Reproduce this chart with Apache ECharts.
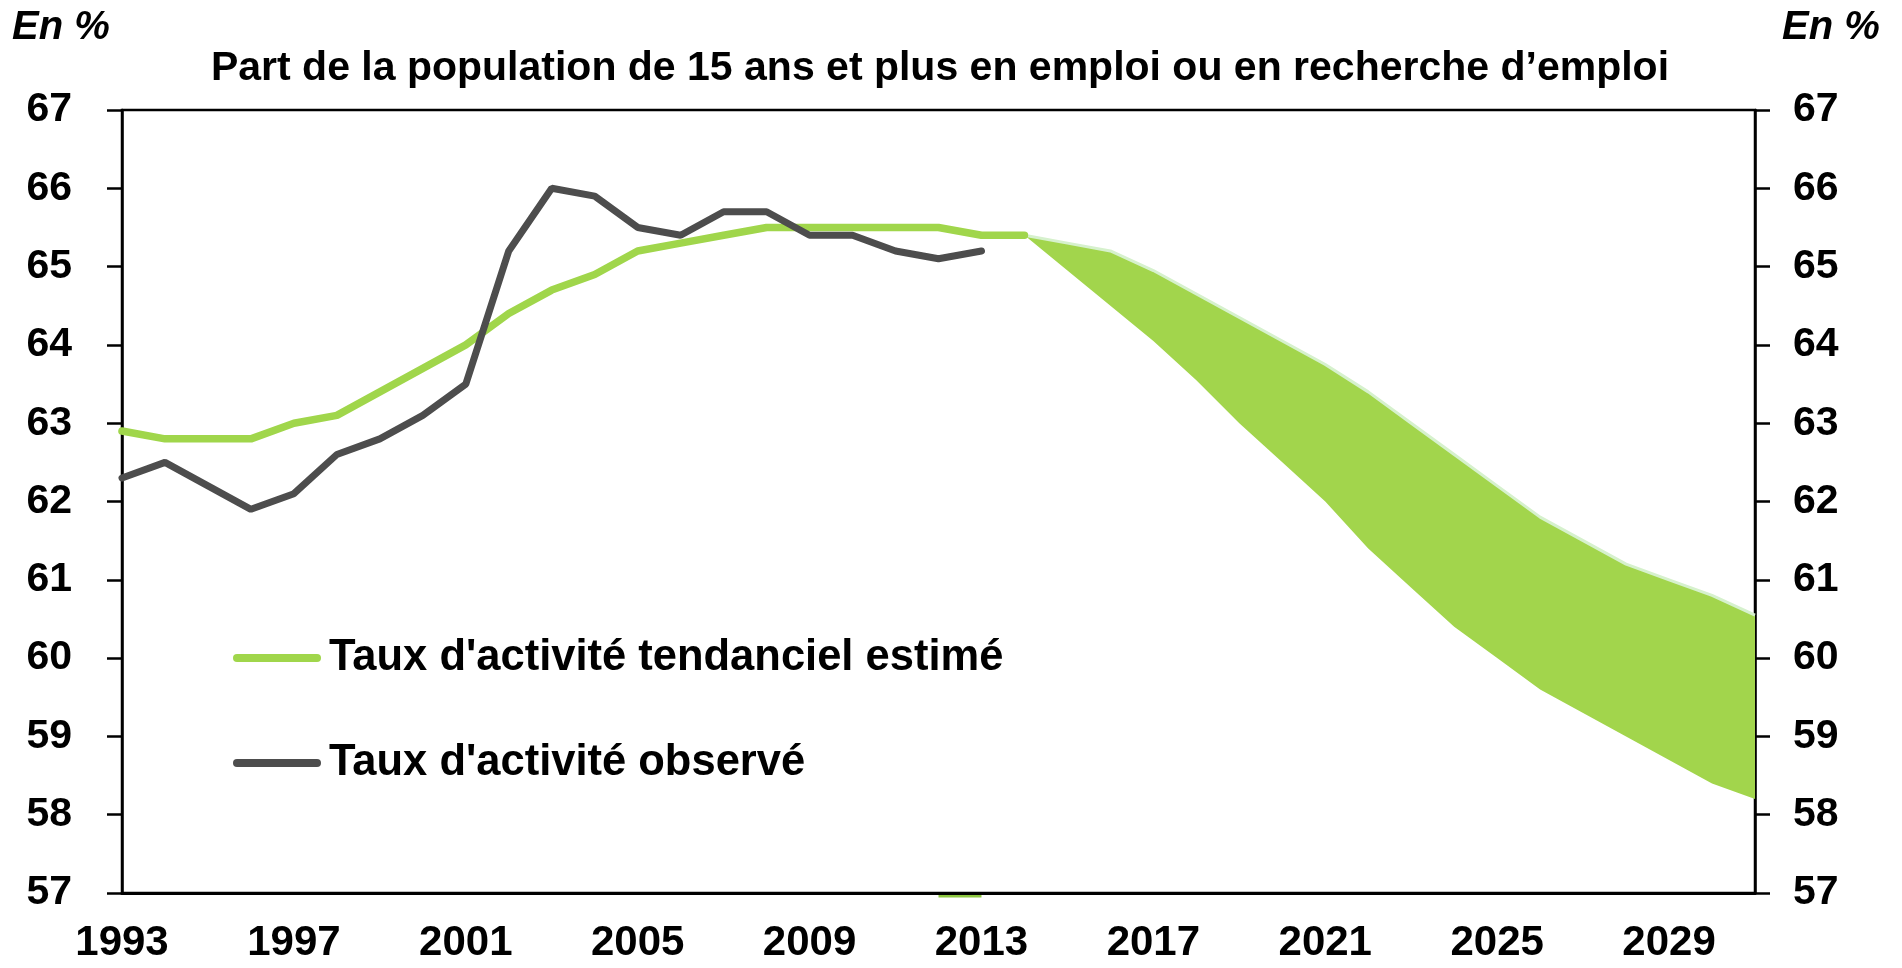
<!DOCTYPE html>
<html>
<head>
<meta charset="utf-8">
<title>Taux d'activité</title>
<script src="https://cdn.jsdelivr.net/npm/echarts@6/dist/echarts.min.js"></script>
<style>
  html, body { margin: 0; padding: 0; background: #fff; }
  #chart { width: 1902px; height: 968px; }
</style>
</head>
<body>
<div id="chart"></div>
<script>
const years = ['1993', '1994', '1995', '1996', '1997', '1998', '1999', '2000', '2001', '2002',
  '2003', '2004', '2005', '2006', '2007', '2008', '2009', '2010', '2011', '2012',
  '2013', '2014', '2015', '2016', '2017', '2018', '2019', '2020', '2021', '2022',
  '2023', '2024', '2025', '2026', '2027', '2028', '2029', '2030', '2031'];

// taux tendanciel estimé, 1993-2014
const tendance = [62.9, 62.8, 62.8, 62.8, 63.0, 63.1, 63.4, 63.7, 64.0, 64.4, 64.7,
  64.9, 65.2, 65.3, 65.4, 65.5, 65.5, 65.5, 65.5, 65.5, 65.4, 65.4];
// taux observé, 1993-2013
const observe = [62.3, 62.5, 62.2, 61.9, 62.1, 62.6, 62.8, 63.1, 63.5, 65.2, 66.0,
  65.9, 65.5, 65.4, 65.7, 65.7, 65.4, 65.4, 65.2, 65.1, 65.2];
// fourchette de projection, 2014-2031
const projHaut = [65.4, 65.3, 65.2, 64.95, 64.65, 64.35, 64.05, 63.75, 63.4, 63.0,
  62.6, 62.2, 61.8, 61.5, 61.2, 61.0, 60.8, 60.55];
const projBas = [65.4, 64.95, 64.5, 64.05, 63.55, 63.0, 62.5, 62.0, 61.4, 60.9,
  60.4, 60.0, 59.6, 59.3, 59.0, 58.7, 58.4, 58.2];
// petit trait vert sous l'axe, 2012-2013
const trait = [56.96, 56.96];

const yTicks = { min: 57, max: 67, interval: 1 };

const FONT = 'Liberation Sans, Arial, Helvetica, sans-serif';
const GREEN = '#a0d64b';
const GREY = '#4d4d4d';

// place a short array at its starting year on the full category axis
function pad(arr, startYear) {
  const offset = years.indexOf(String(startYear));
  return years.map((y, i) => {
    const k = i - offset;
    return k >= 0 && k < arr.length ? arr[k] : null;
  });
}

const basData = pad(projBas, 2014);
const ecartData = pad(projHaut.map((v, i) => +(v - projBas[i]).toFixed(3)), 2014);

const chart = echarts.init(document.getElementById('chart'));

const yAxisBase = {
  type: 'value',
  min: yTicks.min,
  max: yTicks.max,
  interval: yTicks.interval,
  splitLine: { show: false },
  axisLine: { show: true, lineStyle: { color: '#000', width: 2.5 } },
  axisTick: { show: true, inside: false, length: 15, lineStyle: { color: '#000', width: 2.5 } }
};

const option = {
  animation: false,
  backgroundColor: '#fff',
  grid: {
    left: 122, right: 147, top: 110, bottom: 75,
    show: true, borderColor: '#000', borderWidth: 2.5
  },
  graphic: [
    {
      type: 'text', x: 940, y: 69,
      style: {
        text: 'Part de la population de 15 ans et plus en emploi ou en recherche d’emploi',
        font: 'bold 41px ' + FONT, fill: '#000', align: 'center', verticalAlign: 'middle'
      }
    },
    {
      type: 'text', x: 12, y: 28,
      style: { text: 'En %', font: 'italic bold 40px ' + FONT, fill: '#000', align: 'left', verticalAlign: 'middle' }
    },
    {
      type: 'text', x: 1782, y: 28,
      style: { text: 'En %', font: 'italic bold 40px ' + FONT, fill: '#000', align: 'left', verticalAlign: 'middle' }
    }
  ],
  legend: {
    data: ["Taux d'activité tendanciel estimé", "Taux d'activité observé"],
    orient: 'vertical',
    left: 228,
    top: 628,
    itemWidth: 88,
    itemHeight: 8,
    itemGap: 55,
    icon: 'path://M4,0H84A4,4,0,0,1,84,8H4A4,4,0,0,1,4,0Z',
    selectedMode: false,
    textStyle: {
      fontFamily: FONT, fontSize: 43.5, fontWeight: 'bold', color: '#000',
      lineHeight: 50, padding: [0, 0, 0, 3]
    }
  },
  xAxis: {
    type: 'category',
    data: years,
    boundaryGap: false,
    axisLine: { lineStyle: { color: '#000', width: 3 } },
    axisTick: { show: false },
    splitLine: { show: false },
    axisLabel: {
      interval: 3, margin: 29,
      fontFamily: FONT, fontSize: 42, fontWeight: 'bold', color: '#000'
    }
  },
  yAxis: [
    Object.assign({}, yAxisBase, {
      position: 'left',
      axisLabel: { margin: 50, fontFamily: FONT, fontSize: 41, fontWeight: 'bold', color: '#000' }
    }),
    Object.assign({}, yAxisBase, {
      position: 'right',
      axisLabel: { margin: 38, fontFamily: FONT, fontSize: 41, fontWeight: 'bold', color: '#000' }
    })
  ],
  series: [
    {
      name: 'bas',
      type: 'line',
      stack: 'proj',
      data: basData,
      symbol: 'none',
      silent: true,
      lineStyle: { opacity: 0 }
    },
    {
      name: 'fourchette',
      type: 'line',
      stack: 'proj',
      data: ecartData,
      symbol: 'none',
      silent: true,
      lineStyle: { color: '#d6f1cd', width: 3 },
      areaStyle: { color: '#a2d54c', opacity: 1 }
    },
    {
      name: "Taux d'activité tendanciel estimé",
      type: 'line',
      data: pad(tendance, 1993),
      symbol: 'none',
      itemStyle: { color: GREEN },
      lineStyle: { color: GREEN, width: 7.5, cap: 'round' }
    },
    {
      name: "Taux d'activité observé",
      type: 'line',
      data: pad(observe, 1993),
      symbol: 'none',
      itemStyle: { color: GREY },
      lineStyle: { color: GREY, width: 7, cap: 'round' }
    },
    {
      name: 'trait',
      type: 'line',
      data: pad(trait, 2012),
      symbol: 'none',
      clip: false,
      silent: true,
      z: 5,
      lineStyle: { color: '#8cc63f', width: 2.5 }
    }
  ]
};

chart.setOption(option);
</script>
</body>
</html>
